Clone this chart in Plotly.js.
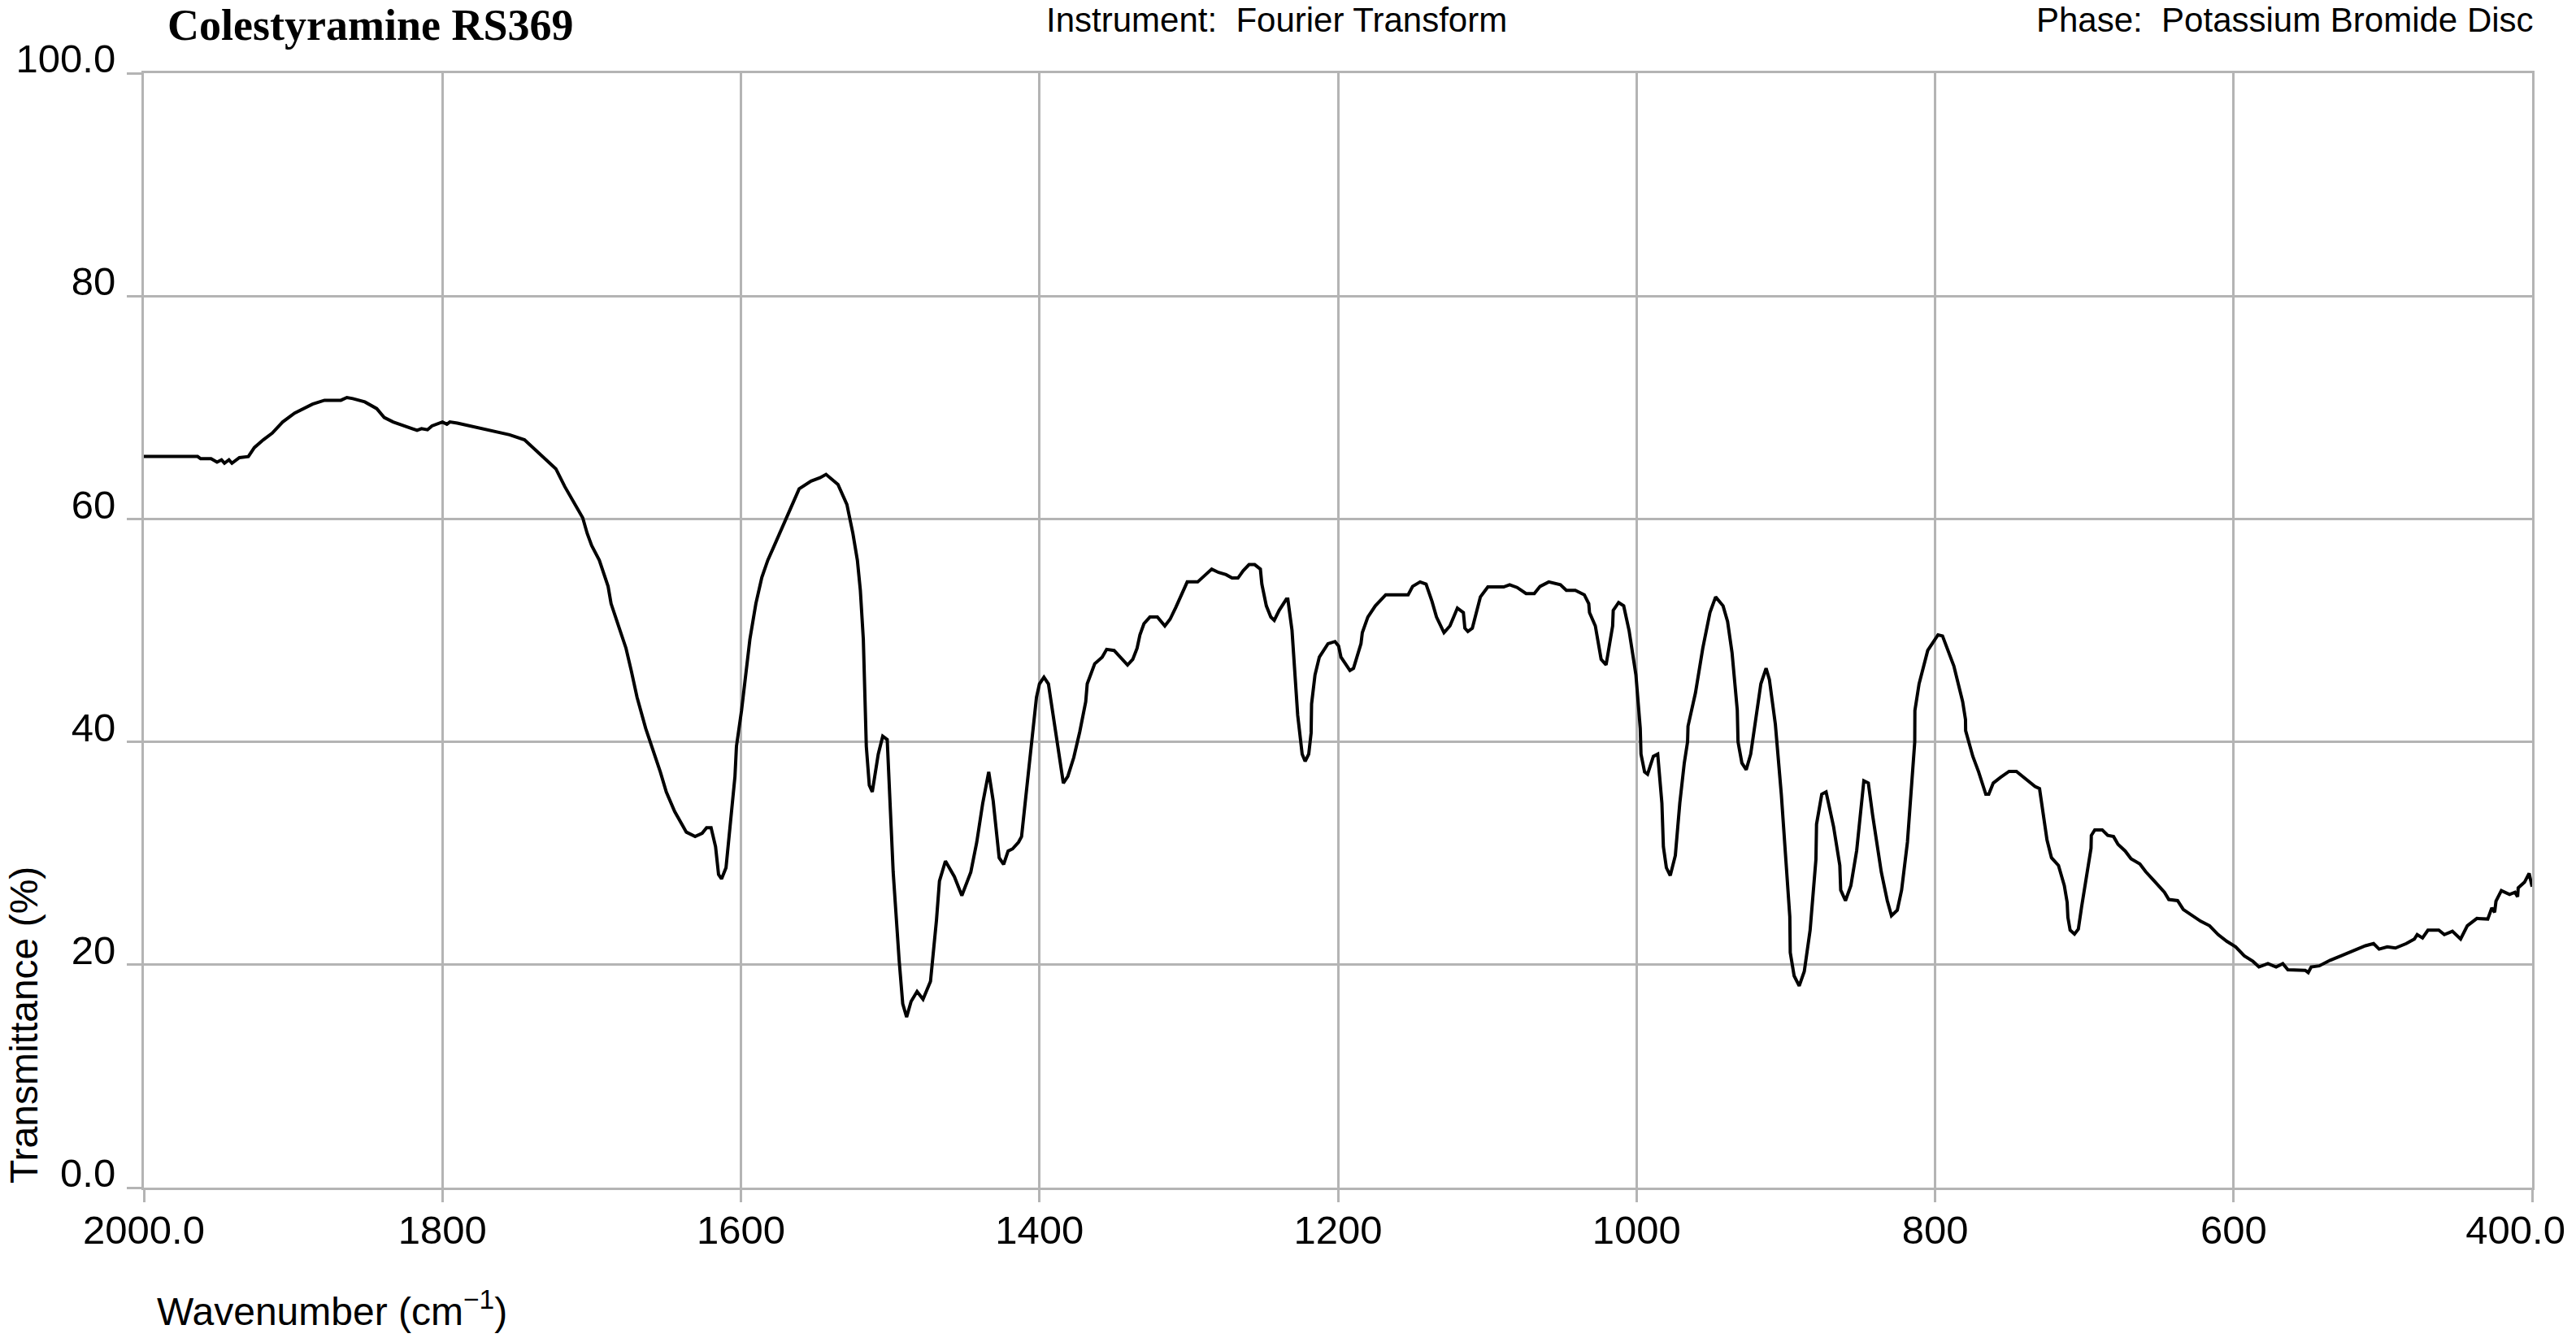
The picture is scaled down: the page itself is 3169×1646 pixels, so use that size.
<!DOCTYPE html>
<html>
<head>
<meta charset="utf-8">
<script src="https://cdn.plot.ly/plotly-3.0.1.min.js"></script>
<style>html,body{margin:0;padding:0;background:#fff;overflow:hidden}</style>
</head>
<body>
<div id="chart" style="width:3169px;height:1646px"></div>
<script>
// Wavenumber (cm-1), descending
const wavenumber = [
2000,1964,1962,1955,1951,1948,1946,1943,1941,1938,1936,1930,1926,1920,1914,1907,1899,1887,1879,1868,1864,1860,1852,1844,1839,1833,1825,1817,1814,1810,1807,1800,1797,1795,1790,1780,1772,1763,1755,1745,1736,1724,1718,1712,1706,1703,
1700,1694.9,1689,1687,1683,1677,1673.5,1669.6,1663.8,1658,1654,1650,1644.4,1636.6,1630.7,1626,1623,1620,1617,1615,1613,1610,1607,1604,1603,1599.6,1594,1590,1586,1582,1578,1570,1561,1553,1547,1543,1535,1529,1525,1522,1520,1518,1517,1516,1514,1512,1508,1505,1502,1500,1498,1494,1491.6,1489,1486,1482,1478,1473,1469,1467,1463,1457,1452,1446,1442,1438,1434,1431,1427,1424,1421,1418,1414,1412,1410,1406,1402,
1400,1397,1394,1389,1384,1381,1377,1373,1369,1368,1363,1358,1355,1350,1346,1341,1337.5,1334.6,1332.7,1330,1326,1321,1316,1312.5,1308.7,1305,1301,1294,1289.4,1284.6,1280,1275,1271,1267,1263.5,1259.6,1255.8,1252,1251,1248,1245,1242.7,1239.4,1234.6,1233.6,1230.8,1227,1224,1222,1219.6,1218,1217.7,1215.4,1212.5,1206.7,1202,
1199.6,1198,1192,1189.6,1184.6,1183.7,1180,1175,1168,1153,1150,1145,1141,1137,1134,1129,1125,1120,1116,1115,1113,1110,1104.6,1099.6,1089,1085,1080,1074,1068.5,1064.6,1058.8,1051,1047,1041,1035,1032,1031.5,1027.6,1023.7,1020.4,1016,1015.6,1012,1008.6,1005,1000.4,
997.5,997,994.6,992.6,988.7,985.8,983,982,980,977.4,974,971,968,965.8,965.5,960.5,955.6,950.8,947,942,939,936,932.5,932,929.4,926.5,923.5,919.6,916.7,913.2,911,907,903,897.3,897,894.4,891,887.6,883.7,879.8,879.4,875.9,873,868,863.8,863.2,860,856.4,852.5,847.7,844.7,841.8,836,832,829.2,825.3,822.4,818.5,815.6,813.6,813.5,810.7,804.9,
798,795,787.4,781.5,779.6,779.5,774.7,770.8,766,764,761,756.2,750.4,745.5,740.7,733,730,729,725,722,717.3,713.4,711.5,711,709.5,706.6,704,701.8,697.9,695.5,695.3,693,688,684.3,680.4,677.4,672.6,668.7,662.8,658.9,653.1,646.3,643.4,637.5,633.7,627.8,622,616.1,610.3,604.5,
598.6,592.8,587,583,579,577,571.5,567,563.6,552,550,548,542.6,535.3,528,520.8,511.7,506.2,502.5,497,491.6,484.3,478.9,477,473.4,469.8,462.5,458.8,453.4,447.9,443.4,437,429.7,427,425.1,424.2,420.6,415.1,411.5,409.7,409.3,405.1,402,400
];
// Transmittance (%) at each wavenumber above
const transmittance = [
65.6,65.6,65.4,65.4,65.1,65.3,65.0,65.3,65.0,65.3,65.5,65.6,66.4,67.1,67.7,68.7,69.5,70.3,70.65,70.65,70.9,70.8,70.5,69.9,69.1,68.7,68.3,67.95,68.1,68.0,68.35,68.7,68.5,68.7,68.6,68.3,68.1,67.8,67.55,67.1,66.0,64.5,62.9,61.5,60.1,58.7,
57.6,56.3,53.95,52.4,50.8,48.4,46.4,44.0,41.2,38.9,37.3,35.5,33.75,31.9,31.5,31.8,32.3,32.3,30.6,28.1,27.7,28.7,32.6,36.9,39.6,42.8,49.2,52.4,54.75,56.3,57.5,59.9,62.7,63.4,63.7,64.0,63.1,61.3,58.7,56.3,53.6,49.2,44.0,39.6,36.1,35.5,38.9,40.5,40.2,34.5,28.3,20.4,16.5,15.3,16.7,17.6,16.9,18.5,24.0,27.5,29.3,27.9,26.2,28.3,31.0,34.5,37.3,34.7,29.6,29.0,30.2,30.4,31.0,31.5,34.0,39.0,44.0,
45.2,45.8,45.2,40.9,36.3,36.9,38.6,40.9,43.6,45.2,47.0,47.6,48.3,48.2,47.6,46.9,47.4,48.4,49.6,50.6,51.2,51.2,50.4,51.0,52.05,53.2,54.35,54.35,54.95,55.5,55.2,55.0,54.7,54.7,55.35,55.9,55.9,55.5,54.15,52.2,51.2,50.9,51.8,52.8,52.8,50.0,42.4,38.9,38.25,38.9,40.8,43.4,46.0,47.6,48.8,49.0,
48.6,47.6,46.4,46.6,48.8,49.8,51.2,52.2,53.2,53.2,53.95,54.35,54.15,52.6,51.2,49.8,50.4,52.0,51.6,50.2,49.9,50.2,53.0,53.9,53.9,54.1,53.85,53.3,53.3,53.95,54.35,54.1,53.6,53.6,53.2,52.4,51.6,50.4,47.4,46.9,50.4,51.8,52.5,52.2,50.0,46.0,
41.2,38.9,37.3,37.1,38.7,38.9,34.5,30.6,28.7,28.0,29.8,34.5,38.1,40.0,41.4,44.4,48.4,51.6,53.0,52.2,50.8,48.0,42.85,40.0,38.1,37.5,38.9,42.4,45.2,46.6,45.6,41.6,35.3,24.3,21.1,19.0,18.1,19.4,23.1,29.45,32.6,35.3,35.5,32.4,28.9,26.7,25.75,27.1,30.25,36.5,36.3,33.4,28.3,25.75,24.4,24.9,26.7,31.0,36.5,40.0,42.8,45.2,48.2,
49.6,49.5,46.8,43.6,42.0,41.0,38.7,37.3,35.3,35.3,36.3,36.8,37.35,37.35,36.8,36.0,35.8,34.9,31.2,29.6,28.9,27.1,25.6,24.25,23.1,22.75,23.2,25.2,28.7,30.45,31.6,32.1,32.1,31.6,31.5,30.8,30.2,29.5,29.05,28.35,27.5,26.5,25.85,25.75,24.95,24.4,23.9,23.5,22.7,22.1,
21.6,20.8,20.3,19.8,20.0,20.1,19.8,20.1,19.55,19.5,19.3,19.8,19.9,20.4,20.8,21.2,21.7,21.9,21.4,21.6,21.5,21.9,22.3,22.7,22.4,23.1,23.1,22.7,23.0,22.3,23.5,24.15,24.1,25.1,24.7,25.7,26.65,26.3,26.5,26.1,26.9,27.4,28.2,27.0
];
const xTickValues = [2000,1800,1600,1400,1200,1000,800,600,400];
const xTickLabels = ['2000.0','1800','1600','1400','1200','1000','800','600','400.0\u00a0\u00a0\u00a0'];
const yTickValues = [0,20,40,60,80,100];
const yTickLabels = ['0.0','20','40','60','80','100.0'];
const chartTitle = 'Colestyramine RS369';
const instrumentText = 'Instrument:\u00a0 Fourier Transform';
const phaseText = 'Phase:\u00a0 Potassium Bromide Disc';
const xTitle = 'Wavenumber (cm<sup>\u22121</sup>)';
const yTitle = 'Transmittance (%)';

const W = 3169, H = 1646;
const L = 177, R = 3115, T = 90, B = 1461;
const px = v => (v - L) / (R - L);
const py = v => (B - v) / (B - T);

const grid = '#b4b4b4';
const sans = 'Liberation Sans, Arial, sans-serif';

const trace = {
  x: wavenumber, y: transmittance, type: 'scatter', mode: 'lines',
  line: {color: '#000000', width: 4}, hoverinfo: 'skip'
};

const layout = {
  width: W, height: H,
  margin: {l: L, r: W - R, t: T, b: H - B, pad: 0},
  paper_bgcolor: '#ffffff', plot_bgcolor: '#ffffff',
  showlegend: false,
  xaxis: {
    range: [2000, 400], tickmode: 'array', tickvals: xTickValues, ticktext: xTickLabels,
    showgrid: true, gridcolor: grid, gridwidth: 3, zeroline: false,
    showline: true, linecolor: grid, linewidth: 3, mirror: true,
    ticks: 'outside', ticklen: 15, tickwidth: 3, tickcolor: grid,
    ticklabelstandoff: -8, ticklabeloverflow: 'allow',
    tickfont: {family: sans, size: 49, color: '#000'}
  },
  yaxis: {
    range: [0, 100], tickmode: 'array', tickvals: yTickValues, ticktext: yTickLabels,
    showgrid: true, gridcolor: grid, gridwidth: 3, zeroline: false,
    showline: true, linecolor: grid, linewidth: 3, mirror: true,
    ticks: 'outside', ticklen: 18, tickwidth: 3, tickcolor: grid,
    ticklabelshift: -18, ticklabelstandoff: 4, ticklabeloverflow: 'allow',
    tickfont: {family: sans, size: 49, color: '#000'}
  },
  annotations: [
    {text: '<b>' + chartTitle + '</b>', xref: 'paper', yref: 'paper', x: px(204), y: py(31),
     xanchor: 'left', yanchor: 'middle', showarrow: false,
     font: {family: 'Liberation Serif, Times New Roman, serif', size: 54, color: '#000'}},
    {text: instrumentText, xref: 'paper', yref: 'paper', x: px(1285), y: py(25),
     xanchor: 'left', yanchor: 'middle', showarrow: false,
     font: {family: sans, size: 42, color: '#000'}},
    {text: phaseText, xref: 'paper', yref: 'paper', x: px(3119), y: py(25),
     xanchor: 'right', yanchor: 'middle', showarrow: false,
     font: {family: sans, size: 42, color: '#000'}},
    {text: xTitle, xref: 'paper', yref: 'paper', x: px(191), y: py(1610),
     xanchor: 'left', yanchor: 'middle', showarrow: false,
     font: {family: sans, size: 48, color: '#000'}},
    {text: yTitle, xref: 'paper', yref: 'paper', x: px(29), y: py(1261), textangle: -90,
     xanchor: 'center', yanchor: 'middle', showarrow: false,
     font: {family: sans, size: 48, color: '#000'}}
  ]
};

Plotly.newPlot('chart', [trace], layout, {staticPlot: true, displayModeBar: false, responsive: false});
</script>
</body>
</html>
